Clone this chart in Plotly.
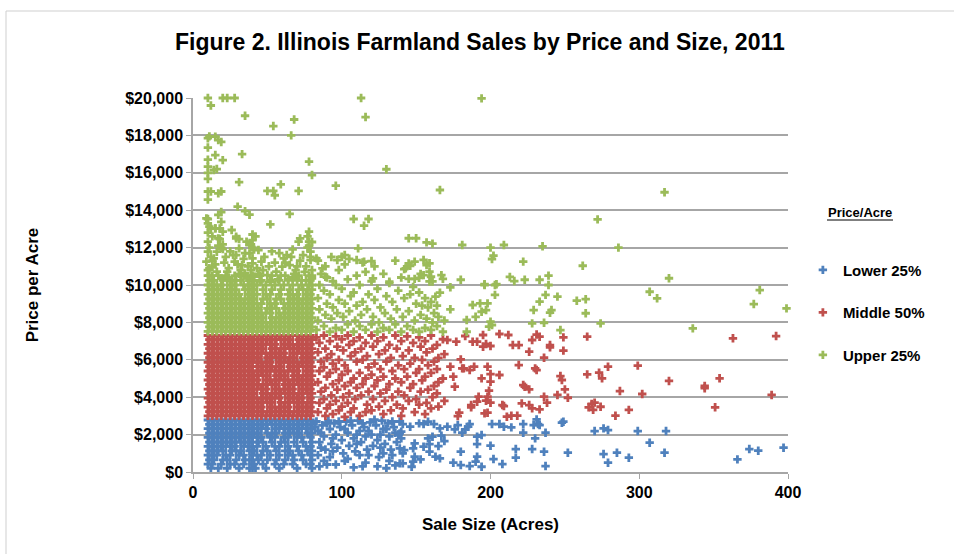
import plotly.graph_objects as go

# ---------------- DATA ----------------
# Sale size (acres) and price per acre ($), split by price class.

# Dense block of small sales (10-80 acres): price level -> list of sale sizes
lower_rows = {
    2780: [10,13,16,19,22,25,28,31,34,37,40,43,46,49,52,55,58,61,64,67,70,73,76,79],
    2550: [11,14,17,20,23,26,29,32,35,38,40,41,44,47,50,53,56,59,62,65,68,71,74,77,80],
    2320: [10,13,16,19,22,25,28,31,34,37,40,43,46,49,55,58,61,64,67,70,73,76,79],
    2080: [11,14,17,20,23,26,29,32,35,38,40,41,44,50,53,56,62,65,68,71,77,80],
    1850: [10,13,16,19,22,25,28,31,34,37,40,43,46,52,55,61,64,70,73,79],
    1600: [11,14,17,20,23,26,29,32,35,38,40,44,47,53,59,62,68,74,80],
    1370: [10,13,16,19,22,25,28,34,37,40,43,49,55,58,64,70,76,79],
    1130: [11,14,17,20,26,29,32,38,40,41,47,50,56,62,65,71,77,80],
    900:  [10,13,16,22,25,31,34,40,43,46,52,58,64,67,73,79],
    650:  [11,14,20,23,29,35,38,40,44,50,56,62,68,74,80],
    420:  [10,13,19,25,28,34,40,41,47,55,61,67,76,79],
    200:  [12,17,23,31,38,40,42,49,58,70,80],
}
lower_pts = [
    (83,2700),(84,2200),(85,1600),(84,900),(85,300),(87,2500),(88,1900),(89,1200),(88,600),
    (91,2750),(92,2300),(93,1500),(92,800),(95,2600),(96,2000),(97,1300),(96,400),
    (99,2400),(100,1700),(101,1000),(103,2700),(104,2100),(105,1400),(104,700),
    (107,2500),(108,1800),(109,1100),(108,250),(111,2750),(112,2200),(113,1600),(112,900),
    (115,2400),(116,1900),(117,1200),(116,500),(119,2650),(120,2000),(121,1400),
    (123,2500),(124,1700),(125,800),(124,300),(127,2750),(128,2300),(129,1500),(128,1000),
    (131,2600),(132,1900),(133,1200),(132,600),(135,2400),(136,2100),(137,1600),(136,350),
    (139,2700),(140,1800),(141,1000),
    (82,2400),(86,2100),(90,2600),(94,1800),(98,2700),(102,2300),(106,2750),(110,2000),
    (114,2600),(118,2200),(122,2800),(126,2000),(130,2300),(134,2700),(138,2000),(86,1300),
    (94,1100),(102,600),(110,1500),(118,900),(126,1300),(134,900),(90,400),(114,300),(130,200),
    (397,1299),(374,1227),(380,1138),(366,675),(317,1031),(307,1566),(318,2190),(299,2190),
    (293,764),(285,1031),(279,497),(276,960),(279,2244),(276,2333),(270,2190),(252,1031),
    (248,2636),(249,2690),(236,1085),(237,2101),(237,318),(228,1227),(230,1798),(231,2814),
    (232,2565),(229,2511),(233,2511),(222,2565),(222,2101),(217,1227),(217,764),(214,2386),
    (209,2422),(206,2565),(208,425),(202,693),(201,2565),(200,1406),(194,1976),(191,1887),
    (194,282),(191,817),(190,550),(186,318),(191,1495),(186,2565),(185,2422),(181,2101),
    (183,2280),(176,2280),(178,2511),(180,1085),(175,497),(180,371),(171,2422),(167,1940),
    (169,1655),(165,1388),(166,728),(163,817),(159,1085),(166,2333),(162,2565),(158,2690),
    (155,2565),(152,2600),(146,2422),(141,2565),(140,2155),(161,1887),(159,1495),(158,1798),
    (155,1352),(149,1530),(148,1263),(149,817),(153,675),(148,550),(147,282),(141,461),
    (142,1174),(139,2066),(139,1263),(139,461),
]

middle_rows = {
    3000: [10,13,16,19,22,25,28,31,34,37,40,43,46,49,52,55,58,61,64,67,70,73,76,79],
    3230: [11,14,17,20,23,26,29,32,35,38,40,41,44,47,50,53,56,59,62,65,68,71,74,77,80],
    3470: [10,13,16,19,22,25,28,31,34,37,40,43,46,52,55,58,61,64,70,73,76,79],
    3720: [11,14,17,20,23,26,29,32,35,38,40,41,44,47,50,53,59,62,65,68,71,74,77,80],
    3950: [10,13,16,19,22,25,28,31,34,37,40,43,46,49,52,55,58,64,67,70,73,79],
    4200: [11,14,17,20,23,26,29,32,35,38,40,41,47,50,53,56,59,62,65,68,71,74,77,80],
    4430: [10,13,16,19,22,25,28,31,34,37,40,43,46,49,55,58,61,64,67,73,76,79],
    4680: [11,14,17,20,23,26,29,32,35,38,40,41,44,47,50,53,56,62,65,68,71,74,77,80],
    4920: [10,13,16,19,22,25,28,31,34,37,40,43,49,52,55,58,61,64,67,70,73,76,79],
    5150: [11,14,17,20,23,26,29,32,35,38,40,41,44,47,50,56,59,62,68,71,74,77,80],
    5400: [10,13,16,19,22,25,28,31,34,37,40,43,46,49,52,55,58,61,64,67,70,76,79],
    5640: [11,14,17,20,23,26,29,32,35,38,40,44,47,50,53,56,59,65,68,71,74,77,80],
    5870: [10,13,16,19,22,25,28,31,34,37,40,43,46,49,52,58,61,64,67,70,73,76,79],
    6120: [11,14,17,20,23,26,29,32,35,38,40,41,44,50,53,56,59,62,65,68,74,77,80],
    6350: [10,13,16,19,22,25,28,31,34,37,40,43,46,49,52,55,58,61,67,70,73,76,79],
    6600: [11,14,17,20,23,26,29,32,35,38,40,41,44,47,53,56,59,62,65,68,71,74,77,80],
    6830: [10,13,16,19,22,25,28,31,34,37,40,43,46,49,52,55,61,64,67,70,73,76,79],
    7080: [11,14,17,20,23,26,29,32,35,38,40,41,44,47,50,53,56,59,62,65,71,74,77,80],
    7300: [10,13,16,19,22,25,28,31,34,37,40,43,46,49,52,55,58,61,64,67,70,73,76,79],
}
middle_pts = [
    (83,7200),(85,6900),(84,6400),(86,5900),(85,5400),(84,4800),(86,4300),(85,3700),(84,3200),
    (88,7300),(89,6600),(90,6100),(88,5600),(90,5100),(89,4500),(88,3900),(90,3400),(89,3000),
    (92,7000),(93,6300),(94,5800),(92,5300),(94,4700),(93,4100),(92,3600),(94,3100),
    (96,7250),(97,6700),(98,6000),(96,5500),(98,4900),(97,4400),(96,3800),(98,3300),
    (100,7100),(101,6500),(102,5700),(100,5200),(102,4600),(101,4000),(100,3500),(102,2950),
    (104,7300),(105,6800),(106,6200),(104,5400),(106,4800),(105,4200),(104,3700),(106,3200),
    (108,7000),(109,6400),(110,5900),(108,5000),(110,4500),(109,3900),(108,3400),
    (112,7200),(113,6600),(114,6000),(112,5300),(114,4700),(113,4100),(112,3000),
    (116,6900),(117,6200),(118,5600),(116,5000),(118,4300),(117,3600),(116,3200),
    (120,7300),(121,6700),(122,5800),(120,5200),(122,4600),(121,3900),(120,3300),
    (124,7000),(125,6300),(126,5500),(124,4900),(126,4200),(125,3500),
    (128,7200),(129,6500),(130,5900),(128,5100),(130,4400),(129,3800),(128,3100),
    (132,6800),(133,6100),(134,5400),(132,4700),(134,4000),(133,3300),
    (136,7300),(137,6600),(138,5700),(136,5000),(138,4300),(137,3600),
    (140,7000),(141,6200),(142,5500),(140,4800),(142,4100),(141,3400),(140,3000),
    (144,7250),(145,6500),(146,5800),(144,5100),(146,4500),(145,3800),
    (148,6900),(149,6100),(150,5300),(148,4700),(150,3900),(149,3200),
    (152,7200),(153,6700),(154,6000),(152,5500),(154,4900),(153,4300),(152,3600),
    (156,7000),(157,6400),(158,5700),(156,5100),(158,4400),(157,3700),(156,3100),
    (160,7300),(161,6600),(162,5900),(160,5300),(162,4600),(161,4000),(160,3400),
    (164,6800),(165,6100),(164,5500),(165,4800),(164,4200),(165,3500),
    (168,7100),(169,6300),(168,5000),(169,3800),
    (392,7270),(363,7150),(389,4120),(351,3460),(354,5010),(344,4480),(344,4600),(320,4870),
    (299,5690),(302,4170),(293,3320),(284,3010),(287,4330),(279,5630),(273,5310),(275,5010),
    (265,5220),(268,3640),(266,3460),(274,3490),(270,3710),(269,3320),(265,7240),(249,7200),
    (249,6490),(247,5130),(248,4920),(250,4420),(252,3970),(245,4120),(240,6790),(240,6665),
    (231,7350),(233,7236),(228,7058),(226,6434),(236,6113),(230,5542),(231,5453),(219,5720),
    (222,4650),(223,4562),(226,4419),(236,4027),(238,3706),(233,3349),(228,3403),(226,3581),
    (221,3670),(218,3010),(214,3010),(211,2957),(208,3581),(209,3527),(206,5186),(200,5239),
    (198,5631),(194,5007),(200,4829),(199,4348),(198,4027),(197,3813),(200,3706),(198,3171),
    (196,3135),(187,3581),(187,3456),(178,2993),(179,3171),(176,4562),(175,5097),(173,5631),
    (180,6024),(181,5542),(182,5542),(186,5453),(189,5631),(188,6969),(191,6969),(183,7272),
    (177,6969),(171,7058),(195,6701),(197,6844),(195,7325),(200,6737),(206,7379),(212,7325),
    (215,6790),(219,6790),(192,4027),(191,3759),
]

upper_rows = {
    7520:  [10,13,16,19,22,25,28,31,34,37,40,43,46,49,52,55,58,61,64,67,70,73,76,79],
    7760:  [11,14,17,20,23,26,29,32,35,38,40,41,44,47,50,53,56,59,62,65,68,71,74,77,80],
    8000:  [10,13,16,19,22,25,28,31,34,37,40,43,46,49,52,55,58,61,64,67,70,73,76,79],
    8250:  [11,14,17,20,23,26,29,32,35,38,40,41,44,47,53,56,59,62,65,68,71,74,77,80],
    8500:  [10,13,16,19,22,25,28,31,34,37,40,43,46,49,52,58,61,64,67,70,73,76,79],
    8750:  [11,14,17,20,23,26,29,32,35,38,40,41,44,50,53,56,62,65,68,71,74,77,80],
    9000:  [10,13,16,19,22,25,28,31,34,37,40,43,46,52,55,61,64,67,70,73,76,79],
    9250:  [11,14,17,20,23,26,29,32,35,38,40,41,47,50,56,59,65,68,71,74,77,80],
    9500:  [10,13,16,19,22,25,28,31,37,40,43,49,52,58,64,67,70,76,79],
    9750:  [11,14,17,20,23,26,29,35,38,40,41,47,53,59,65,71,74,77,80],
    10000: [10,13,16,19,25,28,34,37,40,43,49,55,61,67,73,78,80],
    10250: [11,14,20,23,29,32,38,40,41,46,52,58,64,70,76,79],
    10500: [10,13,17,22,28,34,39,40,45,53,62,71,78,80],
}
upper_pts = [
    (10,20000),(12,19600),(20,20000),(23,20000),(28,20000),(35,19050),(54,18500),(68,18850),
    (66,18000),(113,20000),(116,18980),(194,19980),(10,17850),(11,17950),(15,17930),(17,17750),
    (19,17650),(10,17350),(10,16700),(10,16330),(15,16950),(20,16680),(14,16150),(16,16200),
    (10,16000),(10,15670),(33,17000),(31,15500),(10,15000),(12,15000),(10,14570),(17,14900),
    (19,15000),(50,15030),(54,15030),(55,14800),(59,15380),(71,15030),(78,16600),(80,15880),
    (96,15310),(130,16190),(65,13800),(52,13240),(19,13900),(17,13750),(30,14190),(35,13950),
    (38,13760),(10,13530),(11,13120),(15,13030),(19,13380),(108,13530),(115,13170),(118,13530),
    (78,12850),(26,12940),(166,15080),(317,14960),(272,13510),(145,12500),(150,12500),
    (157,12280),(161,12210),(181,12140),(200,12000),(209,12140),(235,12070),(286,12000),
    (202,11570),(201,11390),(222,11250),(262,11030),(320,10360),(142,10850),(146,11030),
    (149,11250),(155,11340),(157,11070),(159,11160),(159,10710),(145,10330),(149,10330),
    (152,10380),(159,10190),(161,10190),(168,10330),(180,10280),(196,10040),(204,10040),
    (213,10430),(216,10210),(223,10280),(233,10280),(239,10500),(307,9640),(312,9290),
    (381,9730),(377,8980),(399,8750),(336,7680),(274,7950),(264,8490),(264,9240),(258,9160),
    (247,7590),(245,9380),(237,9470),(240,8520),(241,8660),(229,8660),(233,9110),(236,7980),
    (228,7950),(239,10000),(203,10000),(203,9470),(196,10000),(198,9020),(193,9020),(197,8660),
    (194,8570),(190,8300),(184,8130),(188,8930),(200,8040),(199,7770),(201,7860),(184,7500),
    (173,9880),(173,8700),(166,9590),(163,9380),(160,10440),(153,10590),(155,10530),(167,10530),
    (10,12315),(10,11780),(9,11245),(10,10800),(13,10978),(14,11423),(16,11780),(19,11994),
    (20,12173),(18,12458),(20,11923),(16,10711),(19,10354),(23,10711),(26,10212),(28,11245),
    (29,11602),(31,11958),(29,12494),(31,12458),(33,11067),(35,10621),(36,10390),(38,11691),
    (40,11423),(40,11156),(39,10800),(41,10444),(38,12137),(44,11869),(46,11245),(47,10800),
    (50,10532),(52,10176),(56,10711),(60,10978),(63,11602),(61,11423),(65,11067),(69,10800),
    (71,12315),(72,12494),(74,11602),(78,12315),(79,11780),(79,11334),(80,10800),(80,10354),
    (83,11423),(87,10889),(89,10444),(97,11334),(100,11512),(102,11602),(110,11334),(111,11958),
    (115,11245),(120,11280),(121,10354),(132,10176),(143,10889),(145,11156),
    (9,13563),(10,13296),(12,13029),(15,13029),(18,13029),(20,12850),(17,12494),(29,12583),
    (36,12315),(39,12173),(40,12000),(40,12400),(77,12600),(78,12100),(79,11500),
    (12,11500),(15,11100),(22,11500),(25,11800),(34,11400),(43,10900),(55,11200),(58,11700),
    (66,11500),(70,11000),(75,10700),(24,10400),(31,10600),(57,10300),(67,10400),(45,10200),
    (11,10500),(73,10250),
    (11,10900),(13,11300),(17,12100),(21,11200),(24,10900),(27,11600),(30,11100),(32,10800),
    (35,11700),(37,11000),(41,11900),(42,12600),(44,10600),(48,11500),(51,11000),(53,11800),
    (59,10500),(62,11200),(64,10300),(67,11900),(68,10600),(72,11300),(76,11000),(77,12000),
    (80,12300),(40,12700),(10,12800),(11,12000),(13,12600),
    (83,7600),(84,8100),(85,8700),(84,9300),(85,10000),(86,10600),(84,11300),
    (88,7800),(89,8400),(90,9000),(88,9700),(90,10400),(89,11000),
    (92,7500),(93,8200),(94,8800),(92,9500),(94,10200),(93,11500),
    (96,7700),(97,8500),(98,9200),(96,10000),(98,10800),
    (100,7600),(101,8300),(102,9000),(100,9800),(102,11100),
    (104,7900),(105,8600),(106,9400),(104,10300),(105,11400),
    (108,7500),(109,8100),(110,8900),(108,9600),(110,10500),
    (112,7800),(113,8400),(114,9100),(112,10000),(114,11200),
    (116,7600),(117,8700),(118,9500),(116,10700),
    (120,7900),(121,8300),(122,9200),(120,10200),(122,11000),
    (124,7500),(125,8000),(126,8800),(124,9800),
    (128,7700),(129,8500),(130,9400),(128,10600),
    (132,7600),(133,8200),(134,9100),(132,10100),
    (136,7900),(137,8700),(138,9700),(136,11300),
    (140,7500),(141,8300),(142,9300),(140,10400),
    (144,7800),(145,8600),(146,9500),
    (148,7600),(149,8100),(150,9000),(148,9900),
    (152,7500),(153,8400),(154,8900),(152,9600),
    (156,7700),(157,8200),(158,8800),(156,9300),
    (160,7600),(161,8000),(162,8500),(160,9100),
    (164,7800),(165,8300),(164,8900),(168,7500),(169,8100),
]

series_names = ["Lower 25%", "Middle 50%", "Upper 25%"]
series_colors = ["#4F81BD", "#C0504D", "#9BBB59"]
x_ticks = [0, 100, 200, 300, 400]
y_ticks = [0, 2000, 4000, 6000, 8000, 10000, 12000, 14000, 16000, 18000, 20000]
y_labels = ["$0", "$2,000", "$4,000", "$6,000", "$8,000", "$10,000", "$12,000",
            "$14,000", "$16,000", "$18,000", "$20,000"]


def collect(rows, pts):
    xs, ys = [], []
    for yv, xl in rows.items():
        for xv in xl:
            xs.append(xv)
            ys.append(yv)
    for xv, yv in pts:
        xs.append(xv)
        ys.append(yv)
    return xs, ys


FONT = "Liberation Sans, Arial, sans-serif"
fig = go.Figure()
for name, color, rows, pts in zip(series_names, series_colors,
                                  [lower_rows, middle_rows, upper_rows],
                                  [lower_pts, middle_pts, upper_pts]):
    xs, ys = collect(rows, pts)
    fig.add_trace(go.Scatter(
        x=xs, y=ys, mode="markers", name=name, legendgroup=name,
        cliponaxis=False,
        marker=dict(symbol="cross", size=7, color=color, line=dict(width=0)),
    ))

fig.update_layout(
    width=954, height=554,
    paper_bgcolor="white", plot_bgcolor="white",
    margin=dict(l=193, r=166, t=98, b=82, autoexpand=False),
    font=dict(family=FONT, size=15, color="black", weight="bold"),
    title=dict(text="Figure 2. Illinois Farmland Sales by Price and Size, 2011",
               x=0.503, xref="container", xanchor="center",
               y=1 - 42 / 554, yref="container", yanchor="middle",
               font=dict(family=FONT, size=23, color="black", weight="bold")),
    showlegend=True,
    legend=dict(x=1.025, xanchor="left", y=0.584, yanchor="top",
                font=dict(family=FONT, size=15, color="black", weight="bold"),
                tracegroupgap=20, bgcolor="rgba(0,0,0,0)", itemclick=False),
    xaxis=dict(range=[0, 400], tickvals=x_ticks, ticktext=[str(v) for v in x_ticks],
               showgrid=False, zeroline=False, showline=True, linecolor="#A6A6A6",
               linewidth=1.5, ticks="outside", ticklen=5, tickcolor="#A6A6A6",
               tickfont=dict(family=FONT, size=16, color="black", weight="bold"),
               title=dict(text="Sale Size (Acres)", standoff=18,
                          font=dict(family=FONT, size=17, color="black", weight="bold"))),
    yaxis=dict(range=[0, 20000], tickvals=y_ticks, ticktext=y_labels,
               showgrid=True, gridcolor="#A6A6A6", gridwidth=1.5, zeroline=False,
               showline=True, linecolor="#A6A6A6", linewidth=1.5,
               ticks="outside", ticklen=5, tickcolor="#A6A6A6",
               tickfont=dict(family=FONT, size=16, color="black", weight="bold"),
               title=dict(text="Price per Acre", standoff=82,
                          font=dict(family=FONT, size=17, color="black", weight="bold"))),
)

# legend heading (underlined) placed like the original
fig.add_annotation(text="Price/Acre", xref="paper", yref="paper",
                   x=(860 - 193) / 595, y=(472 - 212) / 374, showarrow=False,
                   xanchor="center", yanchor="middle",
                   font=dict(family=FONT, size=13, color="black", weight="bold"))
fig.add_shape(type="line", xref="paper", yref="paper",
              x0=(827 - 193) / 595, x1=(893 - 193) / 595,
              y0=(472 - 220) / 374, y1=(472 - 220) / 374,
              line=dict(color="black", width=1))
# light chart frame
fig.add_shape(type="rect", xref="paper", yref="paper",
              x0=(6 - 193) / 595, x1=(960 - 193) / 595,
              y0=(472 - 560) / 374, y1=(472 - 11) / 374,
              line=dict(color="#CFCFCF", width=1), fillcolor="rgba(0,0,0,0)", layer="below")

fig.write_html("out.html", config={"displayModeBar": False},
               post_script="document.body.style.margin='0';document.body.style.padding='0';")
